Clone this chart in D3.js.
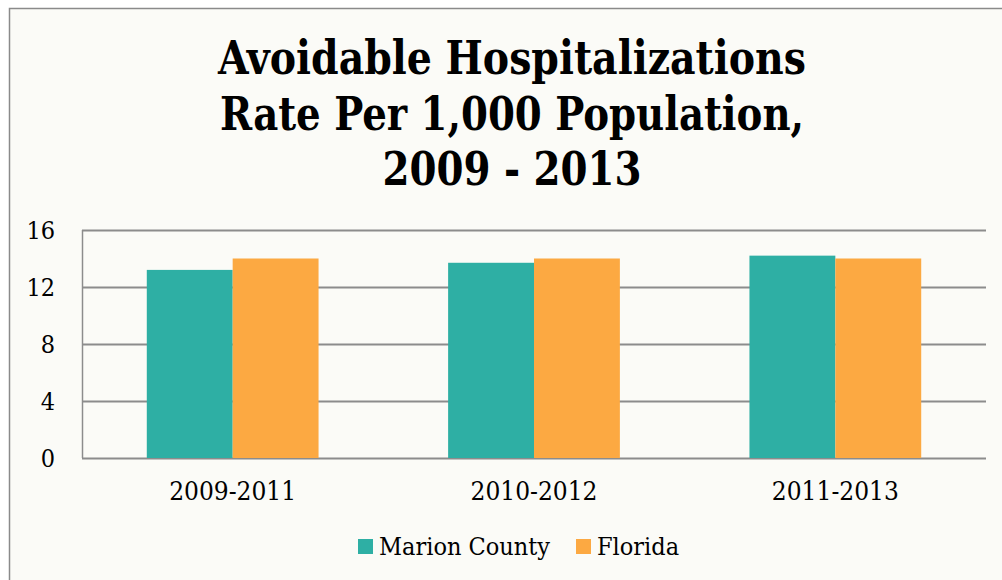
<!DOCTYPE html>
<html>
<head>
<meta charset="utf-8">
<script src="https://cdn.jsdelivr.net/npm/d3@7"></script>
<style>
  body { margin: 0; background: #fff; }
  svg text { fill: #000; }
</style>
</head>
<body>
<div class="chart-div"></div>
<script>
var width = 1002;
var height = 580;
var margin = {top: 230, right: 16, bottom: 122, left: 82};
var plotW = width - margin.left - margin.right;
var plotH = height - margin.top - margin.bottom;

var categories = ["2009-2011", "2010-2012", "2011-2013"];
var seriesNames = ["Marion County", "Florida"];
var marionValues = [13.2, 13.7, 14.2];
var floridaValues = [14.0, 14.0, 14.0];
var yTicks = [0, 4, 8, 12, 16];
var titleLines = ["Avoidable Hospitalizations", "Rate Per 1,000 Population,", "2009 - 2013"];
var colors = ["#2eafa4", "#fca942"];
var serif = "'DejaVu Serif Condensed', 'DejaVu Serif'";

var svg = d3.select(".chart-div")
            .append("svg")
                .attr("width", width)
                .attr("height", height);

//background and frame
svg.append("rect")
    .attr("x", 9.5)
    .attr("y", 8.5)
    .attr("width", width)
    .attr("height", height)
    .attr("fill", "#fbfbf7")
    .attr("stroke", "#8a8a8a")
    .attr("stroke-width", 1.5);

//title, squeezed to the widths seen in the original
var titleWidths = [588, 584, 259];
svg.append("g")
    .selectAll("text")
    .data(titleLines)
    .enter()
    .append("text")
        .attr("x", 512)
        .attr("y", function(d, i) { return 74 + i * 55.5; })
        .attr("text-anchor", "middle")
        .attr("font-family", serif)
        .attr("font-weight", "bold")
        .attr("font-size", "46px")
        .attr("textLength", function(d, i) { return titleWidths[i]; })
        .attr("lengthAdjust", "spacingAndGlyphs")
        .text(function(d) { return d; });

var chart = svg.append("g")
    .attr("transform", "translate(" + margin.left + "," + margin.top + ")");

var x0 = d3.scaleBand()
    .domain(categories)
    .range([0, plotW])
    .paddingInner(0.43)
    .paddingOuter(0.215);
var x1 = d3.scaleBand()
    .domain(seriesNames)
    .range([0, x0.bandwidth()]);
var y = d3.scaleLinear()
    .domain([0, 16])
    .range([plotH, 0]);

//gridlines
chart.append("g")
    .selectAll("line")
    .data(yTicks)
    .enter()
    .append("line")
        .attr("x1", 0)
        .attr("x2", plotW)
        .attr("y1", function(d) { return Math.round(y(d)) + 0.5; })
        .attr("y2", function(d) { return Math.round(y(d)) + 0.5; })
        .attr("stroke", "#8c8c8c")
        .attr("stroke-width", 2);

//left axis line
chart.append("line")
    .attr("x1", 0.5).attr("x2", 0.5)
    .attr("y1", 0).attr("y2", plotH)
    .attr("stroke", "#8c8c8c")
    .attr("stroke-width", 1.5);

//y labels
var yAxis = d3.axisLeft(y).tickValues(yTicks).tickSize(0).tickPadding(27);
chart.append("g")
    .call(yAxis)
    .call(function(g) { g.select(".domain").remove(); })
    .selectAll("text")
        .attr("font-family", serif)
        .attr("font-size", "25px")
        .attr("fill", "#000");

//x labels
var xAxis = d3.axisBottom(x0).tickSize(0).tickPadding(24);
chart.append("g")
    .attr("transform", "translate(0," + plotH + ")")
    .call(xAxis)
    .call(function(g) { g.select(".domain").remove(); })
    .selectAll("text")
        .attr("font-family", serif)
        .attr("font-size", "26px")
        .attr("fill", "#000");

//bars
var rows = categories.map(function(c, i) {
    return {cat: c, values: [marionValues[i], floridaValues[i]]};
});
var groups = chart.selectAll(".group")
    .data(rows)
    .enter()
    .append("g")
        .attr("class", "group")
        .attr("transform", function(d) { return "translate(" + x0(d.cat) + ",0)"; });
groups.selectAll("rect")
    .data(function(d) { return d.values.map(function(v, i) { return {name: seriesNames[i], value: v, i: i}; }); })
    .enter()
    .append("rect")
        .attr("x", function(d) { return x1(d.name); })
        .attr("y", function(d) { return y(d.value); })
        .attr("width", x1.bandwidth())
        .attr("height", function(d) { return plotH - y(d.value); })
        .attr("fill", function(d) { return colors[d.i]; });

//legend
var legendX = [358, 576];
var legend = svg.selectAll(".legend")
    .data(seriesNames)
    .enter()
    .append("g")
        .attr("class", "legend")
        .attr("transform", function(d, i) { return "translate(" + legendX[i] + ",539)"; });
legend.append("rect")
    .attr("width", 15)
    .attr("height", 15)
    .attr("fill", function(d, i) { return colors[i]; });
legend.append("text")
    .attr("x", 21)
    .attr("y", 16)
    .attr("font-family", serif)
    .attr("font-size", "25px")
    .text(function(d) { return d; });
</script>
</body>
</html>
